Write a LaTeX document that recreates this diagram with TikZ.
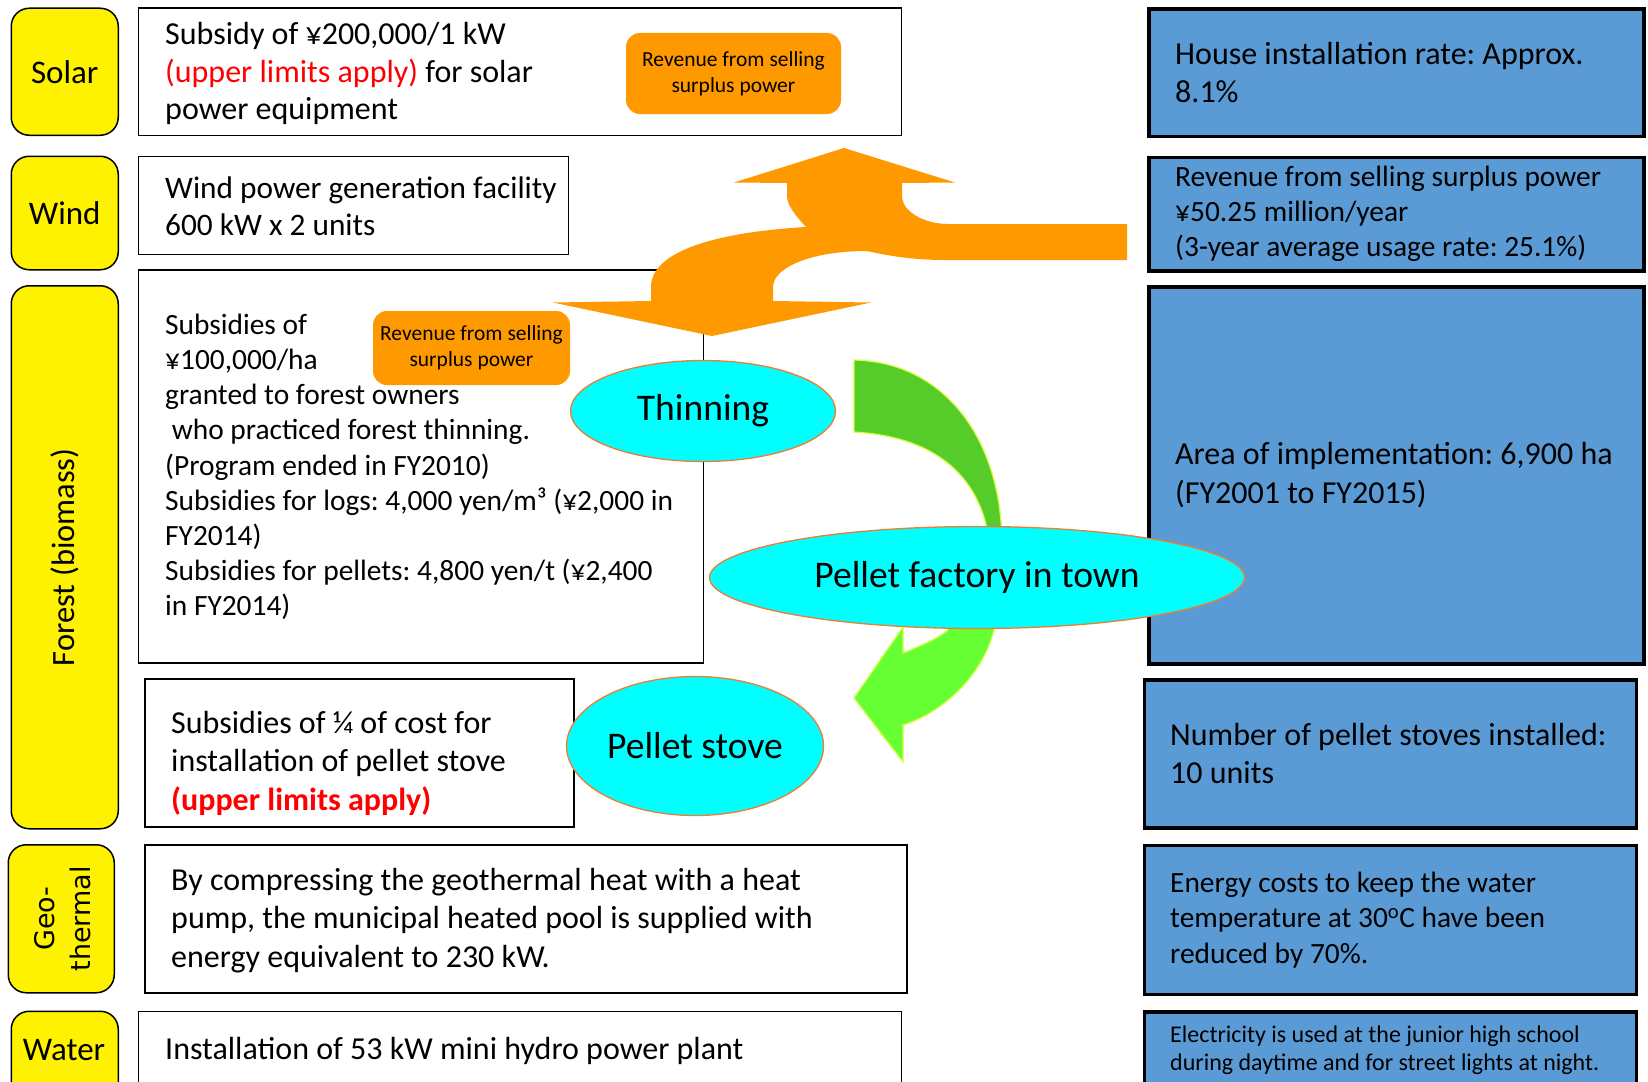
\documentclass[tikz,border=0pt]{standalone}
\usepackage{fontspec}
\setmainfont{Carlito}
\newfontfamily\geofont{DejaVu Sans}
\usetikzlibrary{shapes.geometric}
\definecolor{boxblue}{RGB}{91,155,213}
\definecolor{orng}{RGB}{255,153,0}
\definecolor{ellline}{RGB}{237,125,49}
\definecolor{ellfill}{RGB}{0,255,255}
\definecolor{dgreen}{RGB}{85,204,42}
\definecolor{lgreen}{RGB}{102,255,51}
\definecolor{ygreen}{RGB}{214,255,60}
\frenchspacing
\begin{document}
\begin{tikzpicture}[x=1pt,y=-1pt,
  lab/.style={draw=black, line width=1.5pt, fill=yellow, rounded corners=18pt, anchor=north west, inner sep=0pt},
  wbox/.style={draw=black, line width=1.5pt, fill=white, anchor=north west, inner sep=0pt},
  bbox/.style={draw=black, line width=3.5pt, fill=boxblue, anchor=north west, inner sep=0pt},
  obox/.style={fill=orng, rounded corners=14pt, inner sep=0pt, align=center, font=\fontsize{21.5}{26.3}\selectfont},
  ell/.style={ellipse, draw=ellline, line width=1.3pt, fill=ellfill, inner sep=0pt, font=\fontsize{37.6}{40}\selectfont},
  txt/.style={anchor=west, align=left, inner sep=0pt, font=\fontsize{32}{38.6}\selectfont},
  txts/.style={anchor=west, align=left, inner sep=0pt, font=\fontsize{29.4}{35.2}\selectfont},
  labtxt/.style={inner sep=0pt, font=\fontsize{33}{36}\selectfont}
]
\useasboundingbox (0,0) rectangle (1648,1081);
\fill[white] (0,0) rectangle (1648,1081);

% left category labels
\node[lab, minimum width=107pt, minimum height=127pt] (solarL) at (10.5,7.5) {};
\node[labtxt] at (solarL.center) {Solar};
\node[lab, minimum width=107pt, minimum height=113.5pt] (windL) at (10.5,155.5) {};
\node[labtxt] at (windL.center) {Wind};
\node[lab, minimum width=107pt, minimum height=543pt] (forestL) at (10.5,285) {};
\node[labtxt, rotate=90, font=\fontsize{32.5}{34}\selectfont] at (forestL.center) {Forest (biomass)};
\node[lab, minimum width=106pt, minimum height=148pt] (geoL) at (7.5,844) {};
\node[labtxt, rotate=90, align=center, font=\geofont\fontsize{27}{36}\selectfont] at ([xshift=1pt]geoL.center) {Geo-\\thermal};
\node[lab, minimum width=107pt, minimum height=110pt] (waterL) at (10.5,1010.5) {};
\node[labtxt] at (64,1050) {Water};

% white description boxes
\node[wbox, minimum width=763pt, minimum height=127pt] (solarB) at (137.8,7.5) {};
\node[wbox, minimum width=430pt, minimum height=98pt] (windB) at (137.8,155.5) {};
\node[wbox, minimum width=565pt, minimum height=393pt] (forestB) at (137.8,269) {};
\node[wbox, minimum width=429pt, minimum height=148pt] (stoveB) at (144,678) {};
\node[wbox, minimum width=762pt, minimum height=148pt] (geoB) at (144,844) {};
\node[wbox, minimum width=763pt, minimum height=110pt] (waterB) at (137.8,1010.5) {};

% blue result boxes
\node[bbox, minimum width=495pt, minimum height=127pt] (houseR) at (1147,7.5) {};
\node[bbox, minimum width=495pt, minimum height=113.5pt] (revR) at (1147,155.5) {};
\node[bbox, minimum width=495pt, minimum height=377pt] (areaR) at (1147,285) {};
\node[bbox, minimum width=492pt, minimum height=148pt] (stoveR) at (1142.5,678) {};
\node[bbox, minimum width=492pt, minimum height=149pt] (energyR) at (1142.5,843.5) {};
\node[bbox, minimum width=492pt, minimum height=110pt] (elecR) at (1142.5,1010) {};

% texts of white boxes
\node[txt, font=\fontsize{32}{37.8}\selectfont] (solarT) at (165,73.5) {Subsidy of ¥200,000/1 kW\\\textcolor{red}{(upper limits apply)} for solar\\power equipment};
\node[txt, font=\fontsize{31.3}{37.5}\selectfont] (windT) at (165,206) {Wind power generation facility\\600 kW x 2 units};
\node[txts] (forestT) at (165,467) {Subsidies of\\¥100,000/ha\\granted to forest owners\\\ who practiced forest thinning.\\(Program ended in FY2010)\\Subsidies for logs: 4,000 yen/m³ (¥2,000 in\\FY2014)\\Subsidies for pellets: 4,800 yen/t (¥2,400\\in FY2014)};
\node[txt] (stoveT) at (171,763) {Subsidies of ¼ of cost for\\installation of pellet stove\\\textcolor{red}{\bfseries (upper limits apply)}};
\node[txt] (geoT) at (171,920.5) {By compressing the geothermal heat with a heat\\pump, the municipal heated pool is supplied with\\energy equivalent to 230 kW.};
\node[txt] (waterT) at (165,1051) {Installation of 53 kW mini hydro power plant};

% texts of blue boxes
\node[txt] (houseT) at (1175,72.5) {House installation rate: Approx.\\8.1\%};
\node[txts] (revT) at (1175,214) {Revenue from selling surplus power\\¥50.25 million/year\\(3-year average usage rate: 25.1\%)};
\node[txt] (areaT) at (1175,475) {Area of implementation: 6,900 ha\\(FY2001 to FY2015)};
\node[txt] (stoveRT) at (1170,753.5) {Number of pellet stoves installed:\\10 units};
\node[txts] (energyT) at (1170,920) {Energy costs to keep the water\\temperature at 30\textsuperscript{o}C have been\\reduced by 70\%.};
\node[txt, font=\fontsize{24}{28.4}\selectfont] (elecT) at (1170,1050) {Electricity is used at the junior high school\\during daytime and for street lights at night.};

% orange revenue arrow
\fill[orng] (844,148) -- (955,182.5) -- (902,183) -- (902,196)
  .. controls (902,212) and (925,224) .. (948,224) -- (1127,224) -- (1127,260) -- (946,260)
  .. controls (910,260) and (885,255) .. (867,251)
  .. controls (810,251) and (773,268) .. (773,287) -- (773,301) -- (871,302.5) -- (712,336)
  -- (553,302.5) -- (651,301) -- (651,287)
  .. controls (651,250) and (720,232) .. (806,227)
  .. controls (795,215) and (787,205) .. (787,196) -- (787,183) -- (734,182.5) -- cycle;

% orange revenue labels
\node[obox, minimum width=215pt, minimum height=81pt] (rev1) at (733.5,73.5) {Revenue from selling\\surplus power};
\node[obox, minimum width=197pt, minimum height=74pt] (rev2) at (471.5,348) {Revenue from selling\\surplus power};

% green arrows
\filldraw[fill=dgreen, draw=ygreen, line width=1.2pt] (854,360) .. controls (945,362) and (1002,440) .. (1002,545)
  -- (990,545) .. controls (982,480) and (940,437) .. (854,432) -- cycle;
\filldraw[fill=lgreen, draw=ygreen, line width=1.2pt] (903,627) -- (903,653)
  .. controls (920,646) and (935,640) .. (947,631) -- (962,600) -- (1000,600) -- (997,615)
  .. controls (990,670) and (945,712) .. (903,725) -- (903,762) -- (854,698) -- cycle;

% ellipses
\node[ell, minimum width=265pt, minimum height=101pt] (thin) at (703,411) {Thinning};
\node[ell, minimum width=535pt, minimum height=102pt] (factory) at (977,577.5) {Pellet factory in town};
\node[ell, minimum width=257pt, minimum height=139pt] (stove) at (695,746) {Pellet stove};
\end{tikzpicture}
\end{document}
